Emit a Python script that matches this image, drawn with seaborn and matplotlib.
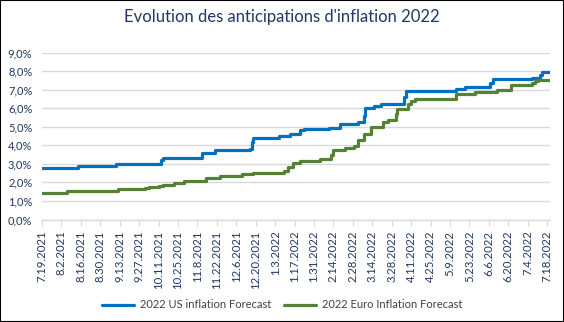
import matplotlib
matplotlib.use("Agg")
import matplotlib.pyplot as plt
from matplotlib.patches import Rectangle
import seaborn as sns
import pandas as pd

# ---- data (step change points, value in %) ----
us_dates = ["2021-07-19", "2021-08-14", "2021-09-10", "2021-10-13", "2021-10-14",
            "2021-11-11", "2021-11-21", "2021-12-16", "2021-12-17", "2021-12-18",
            "2022-01-06", "2022-01-14", "2022-01-21", "2022-01-24", "2022-02-11",
            "2022-02-19", "2022-03-04", "2022-03-08", "2022-03-09", "2022-03-15",
            "2022-03-20", "2022-04-06", "2022-04-07", "2022-05-13", "2022-05-20",
            "2022-06-07", "2022-06-09", "2022-07-07", "2022-07-13", "2022-07-14",
            "2022-07-20"]
us_values = [2.75, 2.90, 3.00, 3.20, 3.33,
             3.60, 3.72, 3.80, 4.20, 4.41,
             4.52, 4.63, 4.80, 4.86, 4.95,
             5.13, 5.24, 5.60, 6.01, 6.13,
             6.22, 6.60, 6.90, 7.02, 7.12,
             7.35, 7.55, 7.60, 7.78, 7.93,
             7.93]

eu_dates = ["2021-07-19", "2021-08-06", "2021-09-12", "2021-10-01", "2021-10-04",
            "2021-10-11", "2021-10-14", "2021-10-22", "2021-10-29", "2021-11-14",
            "2021-11-24", "2021-12-10", "2021-12-18", "2022-01-09", "2022-01-12",
            "2022-01-16", "2022-01-21", "2022-02-04", "2022-02-12", "2022-02-14",
            "2022-02-22", "2022-03-01", "2022-03-04", "2022-03-08", "2022-03-13",
            "2022-03-22", "2022-03-25", "2022-03-31", "2022-04-01", "2022-04-09",
            "2022-04-11", "2022-04-14", "2022-05-13", "2022-05-27", "2022-06-12",
            "2022-06-22", "2022-07-07", "2022-07-09", "2022-07-11", "2022-07-20"]
eu_values = [1.44, 1.54, 1.62, 1.70, 1.74,
             1.80, 1.85, 1.95, 2.05, 2.26,
             2.33, 2.43, 2.50, 2.62, 2.83,
             3.04, 3.13, 3.26, 3.50, 3.74,
             3.86, 3.97, 4.27, 4.60, 4.99,
             5.26, 5.38, 5.70, 5.98, 6.20,
             6.40, 6.52, 6.74, 6.85, 7.00,
             7.23, 7.36, 7.45, 7.54, 7.54]

series_names = ["2022 US inflation Forecast", "2022 Euro Inflation Forecast"]
colors = ["#0070C0", "#548235"]
title = "Evolution des anticipations d'inflation 2022"
tick_start, tick_end = "2021-07-19", "2022-07-18"

us = pd.DataFrame({"date": pd.to_datetime(us_dates), "value": us_values})
eu = pd.DataFrame({"date": pd.to_datetime(eu_dates), "value": eu_values})

sns.set_theme(style="white")
plt.rcParams["font.family"] = ["Lato", "DejaVu Sans"]

fig = plt.figure(figsize=(5.64, 3.22), dpi=100)
ax = fig.add_axes([42 / 564, 1 - 219.5 / 322, (550 - 42) / 564, (219.5 - 52.5) / 322])

sns.lineplot(data=us, x="date", y="value", ax=ax, color=colors[0], lw=2.3,
             drawstyle="steps-post", label=series_names[0], estimator=None)
sns.lineplot(data=eu, x="date", y="value", ax=ax, color=colors[1], lw=2.3,
             drawstyle="steps-post", label=series_names[1], estimator=None)

ax.set_ylim(0, 9)
ax.set_yticks(range(0, 10))
ax.set_yticklabels([f"{v:.1f}%".replace(".", ",") for v in range(0, 10)])
ax.set_xlim(pd.Timestamp("2021-07-19"), pd.Timestamp("2022-07-20"))
ticks = pd.date_range(tick_start, tick_end, freq="14D")
ax.set_xticks(ticks)
ax.set_xticklabels([f"{d.month}.{d.day}.{d.year}" for d in ticks], rotation=90)

ax.set_xlabel("")
ax.set_ylabel("")
ax.grid(axis="y", color="#D9D9D9", lw=1)
ax.set_axisbelow(True)
for s in ["top", "right", "left"]:
    ax.spines[s].set_visible(False)
ax.spines["bottom"].set_color("#D9D9D9")
ax.spines["bottom"].set_linewidth(1)
ax.tick_params(axis="x", colors="#1F3864", labelsize=8.2, length=4, width=0.8,
               direction="out", bottom=True, pad=4)
ax.tick_params(axis="x", color="#D9D9D9")
ax.tick_params(axis="y", colors="#1F3864", labelsize=8, length=0, pad=7)

fig.text(0.5, 1 - 17 / 322, title, ha="center", va="center", fontsize=12,
         color="#1F3864")

leg = ax.legend(loc="center", bbox_to_anchor=(0.5, 0.053), bbox_transform=fig.transFigure,
                ncol=2, frameon=False, fontsize=8, handlelength=2.9,
                columnspacing=1.2, handletextpad=0.5)
for t in leg.get_texts():
    t.set_color("#404040")

fig.patches.append(Rectangle((0, 0), 1, 1, transform=fig.transFigure, fill=False,
                             edgecolor="black", lw=1.5))

fig.savefig("out.png", dpi=100)
